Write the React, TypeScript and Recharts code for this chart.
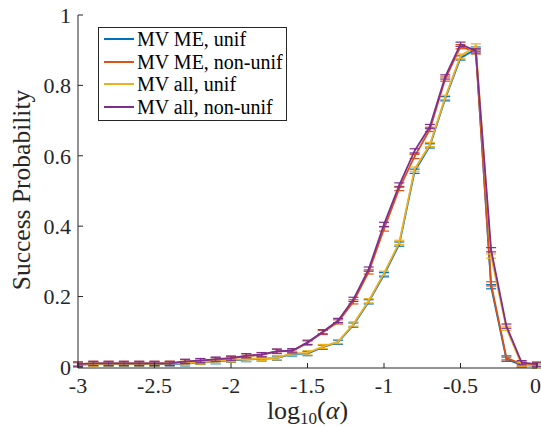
import React from 'react';
import { LineChart, Line, XAxis, YAxis, ErrorBar } from 'recharts';

const logAlpha = [-3.0, -2.9, -2.8, -2.7, -2.6, -2.5, -2.4, -2.3, -2.2, -2.1, -2.0, -1.9, -1.8, -1.7, -1.6, -1.5, -1.4, -1.3, -1.2, -1.1, -1.0, -0.9, -0.8, -0.7, -0.6, -0.5, -0.4, -0.3, -0.2, -0.1, 0.0];

const mvMeUnif = [0.006, 0.008, 0.008, 0.008, 0.008, 0.008, 0.009, 0.009, 0.013, 0.015, 0.019, 0.021, 0.023, 0.025, 0.037, 0.038, 0.056, 0.070, 0.119, 0.185, 0.262, 0.349, 0.556, 0.628, 0.762, 0.878, 0.903, 0.228, 0.022, 0.005, 0.003];
const mvMeNonUnif = [0.008, 0.010, 0.010, 0.010, 0.010, 0.010, 0.010, 0.015, 0.017, 0.021, 0.024, 0.031, 0.034, 0.044, 0.045, 0.068, 0.098, 0.128, 0.185, 0.270, 0.392, 0.507, 0.598, 0.675, 0.818, 0.910, 0.895, 0.236, 0.026, 0.008, 0.006];
const mvAllUnif = [0.007, 0.008, 0.009, 0.009, 0.009, 0.009, 0.010, 0.010, 0.014, 0.016, 0.020, 0.022, 0.024, 0.026, 0.039, 0.040, 0.058, 0.072, 0.122, 0.188, 0.266, 0.354, 0.562, 0.632, 0.766, 0.883, 0.912, 0.315, 0.110, 0.006, 0.003];
const mvAllNonUnif = [0.008, 0.010, 0.010, 0.010, 0.010, 0.010, 0.010, 0.016, 0.018, 0.022, 0.025, 0.032, 0.035, 0.045, 0.046, 0.070, 0.100, 0.132, 0.192, 0.278, 0.405, 0.517, 0.614, 0.683, 0.824, 0.917, 0.898, 0.333, 0.116, 0.012, 0.008];
const errHalf = 0.006;

const xTicks = [-3, -2.5, -2, -1.5, -1, -0.5, 0];
const yTicks = [0, 0.2, 0.4, 0.6, 0.8, 1];

const seriesNames = ['MV ME, unif', 'MV ME, non-unif', 'MV all, unif', 'MV all, non-unif'];
const seriesKeys = ['meUnif', 'meNonUnif', 'allUnif', 'allNonUnif'];
const seriesColors = ['#0072BD', '#D95319', '#EDB120', '#7E2F8E'];
const seriesValues = [mvMeUnif, mvMeNonUnif, mvAllUnif, mvAllNonUnif];

const data = logAlpha.map((x, i) => {
  const row: any = { x, err: errHalf };
  seriesKeys.forEach((k, s) => { row[k] = seriesValues[s][i]; });
  return row;
});

const FONT = "'Liberation Serif', 'DejaVu Serif', serif";
const AX = '#262626';

const fmt = (v: number) => String(v);

const XLabel = (props: any) => {
  const vb = props.viewBox || {};
  const cx = vb.x + vb.width / 2;
  return (
    <text x={cx} y={419} textAnchor="middle" style={{ fontFamily: FONT, fontSize: 26 }} fill={AX}>
      <tspan>log</tspan>
      <tspan style={{ fontSize: 17 }} dy={5}>10</tspan>
      <tspan dy={-5}>(</tspan>
      <tspan style={{ fontStyle: 'italic' }}>α</tspan>
      <tspan>)</tspan>
    </text>
  );
};

const YLabel = () => (
  <text x={0} y={0} transform="translate(30, 190) rotate(-90)" textAnchor="middle" style={{ fontFamily: FONT, fontSize: 25.5 }} fill={AX}>
    Success Probability
  </text>
);

const LegendBox = () => (
  <div style={{ position: 'absolute', left: 98, top: 27, border: '1px solid #262626', background: '#fff', padding: '0px 3px 2px 5px', fontFamily: FONT, fontSize: 20, color: '#000', lineHeight: '22.5px' }}>
    {seriesNames.map((n, i) => (
      <div key={n} style={{ display: 'flex', alignItems: 'center', whiteSpace: 'nowrap' }}>
        <svg width={30} height={4} style={{ marginRight: 3 }}>
          <line x1={0} y1={2} x2={30} y2={2} stroke={seriesColors[i]} strokeWidth={2} />
        </svg>
        <span>{n}</span>
      </div>
    ))}
  </div>
);

const tickStyle = { fontFamily: FONT, fontSize: 22, fill: AX };

export default function App() {
  return (
    <div style={{ position: 'absolute', left: 0, top: 0, width: 541, height: 427, background: '#fff', fontFamily: FONT }}>
      <LineChart width={541} height={427} data={data} margin={{ top: 15, right: 4, left: 0, bottom: 0 }} style={{ fontFamily: FONT }}>
        <XAxis
          xAxisId="b"
          dataKey="x"
          type="number"
          domain={[-3, 0]}
          ticks={xTicks}
          tickFormatter={fmt}
          height={59}
          stroke={AX}
          tickSize={-5}
          tickMargin={14}
          tick={tickStyle}
          allowDataOverflow
          label={<XLabel />}
        />
        <XAxis
          xAxisId="t"
          orientation="top"
          dataKey="x"
          type="number"
          domain={[-3, 0]}
          ticks={xTicks}
          tickFormatter={() => ''}
          height={0}
          stroke={AX}
          tickSize={-5}
        />
        <YAxis
          yAxisId="l"
          type="number"
          domain={[0, 1]}
          ticks={yTicks}
          tickFormatter={fmt}
          width={78}
          stroke={AX}
          tickSize={-5}
          tickMargin={12}
          tick={tickStyle}
          label={<YLabel />}
        />
        <YAxis
          yAxisId="r"
          orientation="right"
          type="number"
          domain={[0, 1]}
          ticks={yTicks}
          tickFormatter={() => ''}
          width={0}
          stroke={AX}
          tickSize={-5}
        />
        {seriesKeys.map((k, i) => (
          <Line
            key={k}
            xAxisId="b"
            yAxisId="l"
            type="linear"
            dataKey={k}
            name={seriesNames[i]}
            stroke={seriesColors[i]}
            strokeWidth={1.8}
            dot={false}
            activeDot={false}
            isAnimationActive={false}
          >
            <ErrorBar dataKey="err" width={5} stroke={seriesColors[i]} strokeWidth={1.2} direction="y" />
          </Line>
        ))}
      </LineChart>
      <LegendBox />
    </div>
  );
}
